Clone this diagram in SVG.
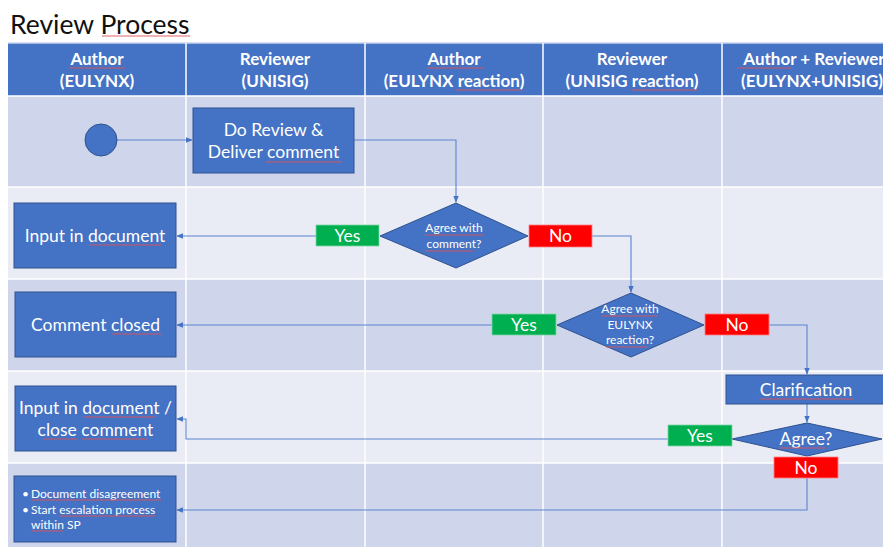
<svg xmlns="http://www.w3.org/2000/svg" width="883" height="547" viewBox="0 0 883 547">
<defs>
<style>
.t{font-family:Lato,"Liberation Sans",sans-serif;fill:#fff;text-anchor:middle}
.hd{font-size:17px;font-weight:bold}
.bx{font-size:17.5px}
.sm{font-size:12px}
.ft{font-family:Lato,"Liberation Sans",sans-serif;fill:#fff;font-size:12px}
.box{fill:#4472C4;stroke:#2F528F;stroke-width:1}
.yes{fill:#00B050;stroke:#7fd8a3;stroke-width:0.8}
.no{fill:#FF0000;stroke:#ff8080;stroke-width:0.8}
.dk{fill:#CFD5EA}
.lt{fill:#E9EBF5}
.grid{stroke:#fff;stroke-width:1.5}
.cn{fill:none;stroke:#5B85D0;stroke-width:1.1}
.sp{stroke:#E0525A;stroke-width:0.9;fill:none}
</style>
<marker id="ah" viewBox="0 0 10 10" refX="9" refY="5" markerWidth="6" markerHeight="6" orient="auto">
<path d="M0,1 L10,5 L0,9 z" fill="#4472C4"/>
</marker>
</defs>
<rect width="883" height="547" fill="#fff"/>
<text x="10" y="34" style="font-family:Lato,'Liberation Sans',sans-serif;font-size:26.5px;fill:#111">Review Process</text>

<g id="lanes">
<rect x="8" y="43" width="875" height="53" fill="#4472C4"/>
<rect x="8" y="96" width="875" height="91" class="dk"/>
<rect x="8" y="187" width="875" height="92" class="lt"/>
<rect x="8" y="279" width="875" height="92" class="dk"/>
<rect x="8" y="371" width="875" height="92" class="lt"/>
<rect x="8" y="463" width="875" height="84" class="dk"/>
<g class="grid">
<line x1="8" y1="43" x2="883" y2="43" stroke="#c9d3ee"/>
<line x1="8" y1="96" x2="883" y2="96"/>
<line x1="8" y1="187" x2="883" y2="187"/>
<line x1="8" y1="279" x2="883" y2="279"/>
<line x1="8" y1="371" x2="883" y2="371"/>
<line x1="8" y1="463" x2="883" y2="463"/>
<line x1="186" y1="43" x2="186" y2="547"/>
<line x1="365" y1="43" x2="365" y2="547"/>
<line x1="543" y1="43" x2="543" y2="547"/>
<line x1="722" y1="43" x2="722" y2="547"/>
</g>
<text class="t hd" x="97" y="65">Author</text>
<text class="t hd" x="97" y="87">(EULYNX)</text>
<text class="t hd" x="275" y="65">Reviewer</text>
<text class="t hd" x="275" y="87">(UNISIG)</text>
<text class="t hd" x="454" y="65">Author</text>
<text class="t hd" x="454" y="87">(EULYNX reaction)</text>
<text class="t hd" x="632" y="65">Reviewer</text>
<text class="t hd" x="632" y="87">(UNISIG reaction)</text>
<text class="t hd" x="814" y="65">Author + Reviewer</text>
<text class="t hd" x="812" y="87">(EULYNX+UNISIG)</text>
</g>

<g id="connectors">
<path class="cn" d="M117,140 H192" marker-end="url(#ah)"/>
<path class="cn" d="M354,140 H456 V202" marker-end="url(#ah)"/>
<path class="cn" d="M316,236 H177" marker-end="url(#ah)"/>
<path class="cn" d="M592,236 H631 V292" marker-end="url(#ah)"/>
<path class="cn" d="M492,325 H177" marker-end="url(#ah)"/>
<path class="cn" d="M769,325 H807 V374" marker-end="url(#ah)"/>
<path class="cn" d="M807,404 V422" marker-end="url(#ah)"/>
<path class="cn" d="M668,439 H186 V419 H177" marker-end="url(#ah)"/>
<path class="cn" d="M807,478 V510 H177" marker-end="url(#ah)"/>
</g>

<g id="start"><circle cx="101" cy="140" r="16" class="box"/></g>

<g id="review">
<rect x="193" y="108" width="161" height="65" class="box"/>
<text class="t bx" x="273.5" y="136">Do Review &amp;</text>
<text class="t bx" x="273.5" y="158">Deliver comment</text>
</g>

<g id="decision1">
<polygon points="456,203 528,236 456,268 380,236" class="box"/>
<text class="t sm" x="454" y="232">Agree with</text>
<text class="t sm" x="454" y="248">comment?</text>
</g>
<g id="yes1"><rect x="316" y="225" width="63" height="21" class="yes"/><text class="t bx" x="347.5" y="242">Yes</text></g>
<g id="no1"><rect x="529" y="225" width="63" height="22" class="no"/><text class="t bx" x="560.5" y="242">No</text></g>

<g id="input1">
<rect x="14" y="203" width="162" height="65" class="box"/>
<text class="t bx" x="95" y="242">Input in document</text>
</g>

<g id="decision2">
<polygon points="631,293 704,325 631,357 557,325" class="box"/>
<text class="t sm" x="630" y="313">Agree with</text>
<text class="t sm" x="630" y="329">EULYNX</text>
<text class="t sm" x="630" y="344">reaction?</text>
</g>
<g id="yes2"><rect x="492" y="314" width="64" height="21" class="yes"/><text class="t bx" x="524" y="331">Yes</text></g>
<g id="no2"><rect x="705" y="314" width="64" height="21" class="no"/><text class="t bx" x="737" y="331">No</text></g>

<g id="closed">
<rect x="15" y="292" width="161" height="65" class="box"/>
<text class="t bx" x="95.5" y="331">Comment closed</text>
</g>

<g id="clarification">
<rect x="726" y="375" width="160" height="29" class="box"/>
<text class="t bx" x="806" y="396">Clarification</text>
</g>

<g id="decision3">
<polygon points="807,423 882,439 807,456 732,439" class="box"/>
<text class="t bx" x="806" y="445">Agree?</text>
</g>
<g id="yes3"><rect x="668" y="425" width="64" height="21" class="yes"/><text class="t bx" x="700" y="442">Yes</text></g>
<g id="no3"><rect x="774" y="457" width="64" height="21" class="no"/><text class="t bx" x="806" y="474">No</text></g>

<g id="input2">
<rect x="15" y="386" width="161" height="65" class="box"/>
<text class="t bx" x="95.5" y="414">Input in document /</text>
<text class="t bx" x="95.5" y="436">close comment</text>
</g>

<g id="escalation">
<rect x="14" y="476" width="162" height="66" class="box"/>
<text class="ft" x="22" y="498">•</text>
<text class="ft" x="31" y="498">Document disagreement</text>
<text class="ft" x="22" y="514">•</text>
<text class="ft" x="31" y="514">Start escalation process</text>
<text class="ft" x="31" y="529">within SP</text>
</g>

<g id="spelling" class="sp">
<line x1="102" y1="36" x2="190" y2="36"/>
<line x1="69" y1="68" x2="125" y2="68"/>
<line x1="427" y1="68" x2="483" y2="68"/>
<line x1="455" y1="90" x2="522" y2="90"/>
<line x1="631" y1="90" x2="697" y2="90"/>
<line x1="737" y1="68" x2="792" y2="68"/>
<line x1="266" y1="162" x2="342" y2="162"/>
<line x1="425" y1="235" x2="483" y2="235"/>
<line x1="425" y1="251" x2="473" y2="251"/>
<line x1="89" y1="245" x2="161" y2="245"/>
<line x1="602" y1="316" x2="658" y2="316"/>
<line x1="606" y1="347" x2="648" y2="347"/>
<line x1="112" y1="334" x2="162" y2="334"/>
<line x1="83" y1="417" x2="156" y2="417"/>
<line x1="43" y1="439" x2="77" y2="439"/>
<line x1="82" y1="439" x2="148" y2="439"/>
<line x1="759" y1="399" x2="854" y2="399"/>
<line x1="779" y1="448" x2="825" y2="448"/>
<line x1="31" y1="500" x2="161" y2="500"/>
<line x1="59" y1="516" x2="155" y2="516"/>
<line x1="31" y1="531" x2="63" y2="531"/>
</g>
</svg>
